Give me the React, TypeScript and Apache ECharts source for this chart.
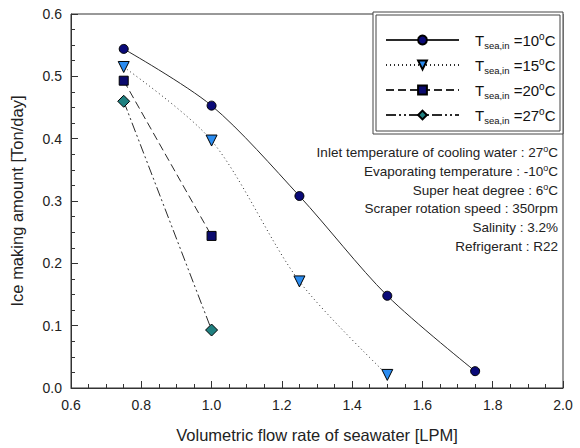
import React, { useEffect, useRef } from "react";
import * as echarts from "echarts";

const flowRates10 = [0.75, 1.0, 1.25, 1.5, 1.75];
const ice10 = [0.544, 0.453, 0.308, 0.148, 0.027];
const flowRates15 = [0.75, 1.0, 1.25, 1.5];
const ice15 = [0.515, 0.397, 0.171, 0.021];
const flowRates20 = [0.75, 1.0];
const ice20 = [0.493, 0.244];
const flowRates27 = [0.75, 1.0];
const ice27 = [0.46, 0.093];

const seriesNames = ["10", "15", "20", "27"];
const notes = [
  "Inlet temperature of cooling water : 27{sup|o}C",
  "Evaporating temperature : -10{sup|o}C",
  "Super heat degree : 6{sup|o}C",
  "Scraper rotation speed : 350rpm",
  "Salinity : 3.2%",
  "Refrigerant : R22",
];

const FONT = "'Liberation Sans', Arial, sans-serif";

function pairs(xs: number[], ys: number[]) {
  return xs.map((x, i) => [x, ys[i]]);
}

export default function App() {
  const ref = useRef<HTMLDivElement>(null);
  useEffect(() => {
    if (!ref.current) return;
    const chart = echarts.init(ref.current, null, { renderer: "svg" });
    const richLegend = {
      color: "#111",
      fontSize: 15,
      fontFamily: FONT,
      padding: [0, 0, 0, 11],
      rich: {
        sub: { fontSize: 9.5, fontFamily: FONT, color: "#111", padding: [10, 0, 0, 0] },
        sup: { fontSize: 10, fontFamily: FONT, color: "#111", padding: [0, 0, 8, 0] },
      },
    };
    const legendTops = [31, 56, 81, 106];
    const legends = seriesNames.map((n, i) => ({
      data: [n],
      left: 385,
      top: legendTops[i],
      itemWidth: 73,
      itemHeight: 11,
      itemGap: 0,
      padding: 0,
      selectedMode: false,
      formatter: (name: string) => `T{sub|sea,in} =${name}{sup|o}C`,
      textStyle: richLegend,
    }));
    const axisCommon = {
      axisLine: { show: true, lineStyle: { color: "#333", width: 1 } },
      axisTick: { show: true, inside: true, length: 7, lineStyle: { color: "#333" } },
      minorTick: { show: true, splitNumber: 4, length: 4, lineStyle: { color: "#333" } },
      splitLine: { show: false },
      axisLabel: {
        color: "#222",
        fontSize: 14,
        fontFamily: FONT,
        formatter: (v: number) => v.toFixed(1),
      },
      nameTextStyle: { color: "#222", fontSize: 16.5, fontFamily: FONT },
      nameLocation: "middle" as const,
    };
    const lineColor = "#2a2a2a";
    chart.setOption({
      animation: false,
      backgroundColor: "#fff",
      grid: { left: 68, right: 17, top: 14, bottom: 58, show: true, borderColor: "#333", borderWidth: 1 },
      xAxis: {
        type: "value",
        min: 0.6,
        max: 2.0,
        interval: 0.2,
        name: "Volumetric flow rate of seawater [LPM]",
        nameGap: 38,
        ...axisCommon,
        axisLabel: { ...axisCommon.axisLabel, margin: 10 },
      },
      yAxis: {
        type: "value",
        min: 0,
        max: 0.6,
        interval: 0.1,
        name: "Ice making amount [Ton/day]",
        nameGap: 46,
        ...axisCommon,
        axisLabel: { ...axisCommon.axisLabel, margin: 9 },
      },
      legend: legends,
      graphic: [
        { type: "rect", shape: { x: 373, y: 12, width: 190, height: 122 }, style: { fill: "#fff", stroke: "#444", lineWidth: 1 }, z: 1 },
        { type: "rect", shape: { x: 376, y: 15, width: 184, height: 116 }, style: { fill: "none", stroke: "#444", lineWidth: 1 }, z: 1 },
        ...notes.map((t, i) => ({
          type: "text",
          right: 22,
          top: 144 + i * 19,
          style: {
            text: t,
            fill: "#222",
            fontSize: 13.5,
            fontFamily: FONT,
            rich: { sup: { fontSize: 9, fontFamily: FONT, fill: "#222", padding: [0, 0, 7, 0] } },
          },
          z: 2,
        })),
      ],
      series: [
        {
          name: seriesNames[0],
          type: "line",
          data: pairs(flowRates10, ice10),
          smooth: 0.3,
          symbol: "circle",
          symbolSize: 9,
          lineStyle: { color: lineColor, width: 1, type: "solid" },
          itemStyle: { color: "#0a0a78", borderColor: "#000", borderWidth: 1 },
          z: 3,
        },
        {
          name: seriesNames[1],
          type: "line",
          data: pairs(flowRates15, ice15),
          smooth: 0.3,
          symbol: "triangle",
          symbolRotate: 180,
          symbolSize: 11,
          lineStyle: { color: lineColor, width: 1, type: [1, 3] },
          itemStyle: { color: "#2b8cf0", borderColor: "#000", borderWidth: 1 },
          z: 3,
        },
        {
          name: seriesNames[2],
          type: "line",
          data: pairs(flowRates20, ice20),
          symbol: "rect",
          symbolSize: 9,
          lineStyle: { color: lineColor, width: 1, type: [8, 4] },
          itemStyle: { color: "#0a0a6e", borderColor: "#000", borderWidth: 1 },
          z: 3,
        },
        {
          name: seriesNames[3],
          type: "line",
          data: pairs(flowRates27, ice27),
          symbol: "diamond",
          symbolSize: 12,
          lineStyle: { color: lineColor, width: 1, type: [10, 3, 2, 3, 2, 3] },
          itemStyle: { color: "#1f8080", borderColor: "#000", borderWidth: 1 },
          z: 3,
        },
      ],
    });
    return () => chart.dispose();
  }, []);
  return <div ref={ref} style={{ width: 580, height: 448, position: "absolute", left: 0, top: 0 }} />;
}
